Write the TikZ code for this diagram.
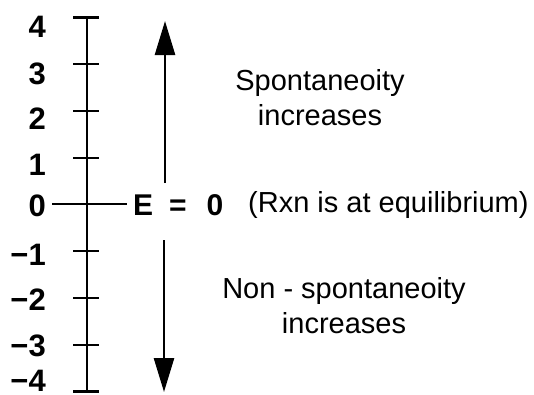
\documentclass[tikz,border=0pt]{standalone}
\usepackage{fontspec}
\setmainfont{Liberation Sans}
\usetikzlibrary{arrows,arrows.meta,positioning}
\tikzset{
	>=stealth',
	axe/.style={
		line width=2.6pt},
	tickmark/.style={
		line width=2.2pt},
	num/.style={
		anchor=east,
		inner sep=0pt,
		font=\fontsize{31}{34}\selectfont\bfseries},
	pil/.style={
		-{Triangle[length=34pt,width=20pt]},
		line width=2.6pt},
	txt/.style={
		align=center,
		inner sep=0pt,
		font=\fontsize{29}{35}\selectfont}
}

\begin{document}
\begin{tikzpicture}[x=1pt,y=-1pt]
\useasboundingbox (0,0) rectangle (534,394);

% Axis
\coordinate (top) at (87,18);
\coordinate (bot) at (87,392);
\draw[axe] (top) -- (bot);
\coordinate (zl) at (52,204);
\coordinate (zr) at (127,204);
\draw[tickmark] (zl) -- (zr);
\foreach \n in {4,3,2,1,-1,-2,-3,-4}
{
	\coordinate (t\n) at (87,{204.5-46.75*\n});
	\draw[tickmark] ([xshift=-14pt]t\n) -- ([xshift=12pt]t\n);
}

% Numbers
\foreach \n/\lab/\y in {4/4/27,3/3/74,2/2/119,1/1/165,0/0/206,-1/−1/255,-2/−2/300,-3/−3/346,-4/−4/381}
	\node[num] (n\n) at (46,\y) {\lab};

% Arrows
\coordinate (ua) at (165,183);
\coordinate (ub) at (165,21);
\draw[pil] (ua) -- (ub);
\coordinate (da) at (164,240);
\coordinate (db) at (164,392);
\draw[pil] (da) -- (db);

% Text Node
\node[anchor=west, inner sep=0pt, font=\fontsize{30}{30}\selectfont\bfseries] (eq) at (133,205) {E\hspace{16pt}=\hspace{20pt}0};
% Text Node
\node[anchor=west, inner sep=0pt, font=\fontsize{29}{30}\selectfont] (rxn) at (248,205) {(Rxn is at equilibrium)};
% Text Node
\node[txt] (spont) at (320,98) {Spontaneoity\\increases};
% Text Node
\node[txt] (nonsp) at (344,306) {Non - spontaneoity\\increases};
\end{tikzpicture}
\end{document}
